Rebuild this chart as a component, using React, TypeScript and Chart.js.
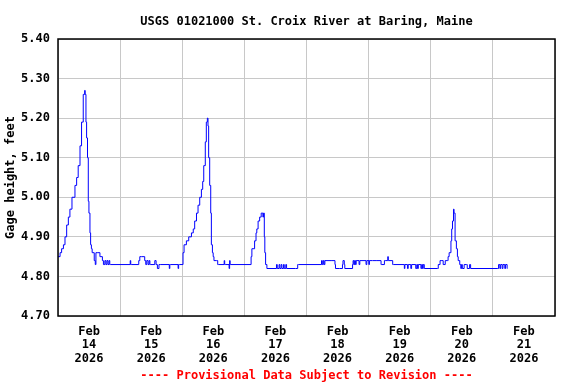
import { useEffect, useRef } from 'react';
import { Chart, registerables } from 'chart.js';

Chart.register(...registerables);

const chartTitle = 'USGS 01021000 St. Croix River at Baring, Maine';
const yAxisTitle = 'Gage height, feet';
const footerText = '---- Provisional Data Subject to Revision ----';
const monthLabel = 'Feb';
const yearLabel = '2026';
const dayLabels = ['14', '15', '16', '17', '18', '19', '20', '21'];
const yTickValues = [4.7, 4.8, 4.9, 5.0, 5.1, 5.2, 5.3, 5.4];

// hours since Feb 14 2026 00:00 (each reading holds until the next one)
const obsHours = [
  0, 0.8, 1.4, 2.1, 2.7, 3.35, 4.0, 4.6, 5.4, 6.55, 7.2, 7.8, 8.5, 9.1, 9.75, 10.3, 10.5, 10.8,
  11.05, 11.4, 11.7, 11.95, 12.35, 12.6, 12.9, 13.2, 14.0, 14.4, 14.65, 15.15, 16.2, 16.6, 17.15,
  17.55, 18.1, 18.5, 18.9, 19.3, 19.7, 20.0, 20.3, 27.9, 28.1, 28.5, 31.2, 31.6, 32.2, 33.5, 33.9,
  34.3, 34.8, 35.2, 35.5, 35.8, 37.4, 37.9, 38.4, 39.0, 39.5, 43.0, 43.2, 43.5, 46.4, 46.6, 46.9,
  48.3, 48.7, 49.6, 50.5, 51.55, 52.25, 52.8, 53.5, 54.1, 54.75, 55.4, 55.9, 56.3, 56.9, 57.3,
  57.7, 57.95, 58.2, 58.6, 59.0, 59.25, 59.65, 59.95, 60.25, 61.2, 61.7, 62.05, 64.2, 64.4, 64.6,
  66.1, 66.3, 66.5, 66.7, 74.6, 74.9, 75.95, 76.5, 76.8, 77.3, 77.9, 78.5, 79.15, 79.4, 79.7, 79.9,
  80.2, 80.7, 84.4, 84.7, 85.4, 85.7, 86.2, 86.5, 87.1, 87.4, 88.0, 88.3, 91.8, 92.6, 92.9, 101.8,
  102.1, 102.5, 102.8, 103.1, 105.5, 107.0, 107.2, 108.7, 109.9, 110.1, 110.6, 110.8, 113.8, 114.0,
  114.3, 114.6, 114.9, 115.2, 116.3, 116.6, 119.0, 119.3, 120.1, 120.3, 121.5, 122.9, 124.8, 125.0,
  126.1, 126.4, 127.4, 127.6, 127.8, 129.3, 129.6, 133.8, 134.0, 135.0, 135.3, 136.3, 136.6, 138.2,
  138.6, 138.9, 139.2, 140.2, 140.5, 140.8, 141.1, 141.5, 146.6, 146.9, 147.6, 148.3, 148.8, 149.6,
  150.4, 150.7, 151.1, 151.8, 152.1, 152.4, 152.8, 153.0, 153.3, 153.4, 153.9, 154.3, 154.6, 155.2,
  155.6, 155.9, 156.2, 156.9, 157.8, 158.1, 159.0, 159.4, 169.9, 170.2, 170.7, 171.0, 171.6, 171.9,
  172.6, 172.9, 173.5, 173.6,
];

const gageFeet = [
  4.85, 4.85, 4.86, 4.87, 4.88, 4.90, 4.93, 4.95, 4.97, 5.00, 5.03, 5.05, 5.08, 5.13, 5.19, 5.26, 5.27, 5.26,
  5.19, 5.15, 5.10, 4.99, 4.96, 4.91, 4.88, 4.87, 4.86, 4.84, 4.83, 4.86, 4.86, 4.85, 4.85,
  4.84, 4.83, 4.84, 4.83, 4.84, 4.83, 4.84, 4.83, 4.83, 4.84, 4.83, 4.83, 4.84, 4.85, 4.85, 4.84,
  4.83, 4.84, 4.83, 4.84, 4.83, 4.83, 4.84, 4.83, 4.82, 4.83, 4.83, 4.82, 4.83, 4.83, 4.82, 4.83,
  4.83, 4.86, 4.88, 4.89, 4.90, 4.91, 4.92, 4.94, 4.96, 4.98, 5.00, 5.02, 5.04, 5.08, 5.14,
  5.19, 5.20, 5.18, 5.10, 5.03, 4.96, 4.88, 4.86, 4.85, 4.84, 4.84, 4.83, 4.83, 4.84, 4.83,
  4.83, 4.82, 4.84, 4.83, 4.83, 4.85, 4.87, 4.89, 4.91, 4.92, 4.94, 4.95, 4.96, 4.95, 4.96, 4.90,
  4.86, 4.83, 4.82, 4.83, 4.82, 4.83, 4.82, 4.83, 4.82, 4.83, 4.82, 4.83, 4.82, 4.82, 4.83, 4.83,
  4.84, 4.83, 4.84, 4.83, 4.84, 4.84, 4.83, 4.82, 4.82, 4.83, 4.84, 4.83, 4.82, 4.83,
  4.84, 4.83, 4.84, 4.83, 4.84, 4.83, 4.84, 4.83, 4.84, 4.83, 4.84, 4.84, 4.84, 4.83,
  4.83, 4.84, 4.84, 4.85, 4.84, 4.84, 4.83, 4.83, 4.82, 4.83, 4.82, 4.83, 4.82, 4.83, 4.82,
  4.83, 4.82, 4.83, 4.82, 4.83, 4.82, 4.83, 4.82, 4.82, 4.83, 4.84, 4.84, 4.83, 4.84,
  4.84, 4.85, 4.86, 4.89, 4.92, 4.94, 4.97, 4.96, 4.96, 4.89, 4.87, 4.85, 4.84, 4.83,
  4.82, 4.83, 4.82, 4.83, 4.83, 4.82, 4.83, 4.82, 4.82, 4.83, 4.82, 4.83, 4.82, 4.83,
  4.82, 4.83, 4.82, 4.83, 4.83,
];

const FONT = "'DejaVu Sans Mono', 'Liberation Mono', monospace";

const frameBorder = {
  id: 'frameBorder',
  afterDraw(chart: any) {
    const { ctx, chartArea } = chart;
    ctx.save();
    ctx.strokeStyle = '#000000';
    ctx.lineWidth = 1.5;
    ctx.strokeRect(chartArea.left, chartArea.top, chartArea.right - chartArea.left, chartArea.bottom - chartArea.top);
    ctx.restore();
  },
};

export default function App() {
  const canvasRef = useRef<HTMLCanvasElement | null>(null);

  useEffect(() => {
    document.body.style.margin = '0';
    const canvas = canvasRef.current;
    if (!canvas) return;
    const points = obsHours.map((h, i) => ({ x: h, y: gageFeet[i] }));
    const xTickValues: number[] = [];
    for (let i = 0; i <= dayLabels.length * 2; i++) xTickValues.push(i * 12);

    const chart = new Chart(canvas, {
      type: 'line',
      data: {
        datasets: [
          {
            data: points,
            borderColor: '#0000ff',
            borderWidth: 1,
            pointRadius: 0,
            stepped: 'after',
            fill: false,
          },
        ],
      },
      plugins: [frameBorder],
      options: {
        animation: false,
        responsive: false,
        devicePixelRatio: 1,
        layout: { padding: { left: 0, right: 21, top: 0, bottom: 0 } },
        plugins: {
          legend: { display: false },
          tooltip: { enabled: false },
          title: {
            display: true,
            text: chartTitle,
            fullSize: false,
            color: '#000000',
            font: { family: FONT, size: 12, weight: 'bold', lineHeight: 1.2 },
            padding: { top: 14.2, bottom: 10.4 },
          },
          subtitle: {
            display: true,
            text: footerText,
            position: 'bottom',
            fullSize: false,
            color: '#ff0000',
            font: { family: FONT, size: 12, weight: 'bold', lineHeight: 1.2 },
            padding: { top: 0, bottom: 1 },
          },
        },
        scales: {
          x: {
            type: 'linear',
            min: 0,
            max: dayLabels.length * 24,
            afterBuildTicks: (scale: any) => {
              scale.ticks = xTickValues.map((v) => ({ value: v }));
            },
            afterFit: (scale: any) => {
              scale.height = 52.6;
            },
            border: { display: false },
            grid: {
              drawTicks: false,
              lineWidth: 1,
              color: (ctx: any) =>
                ctx.tick && ctx.tick.value % 24 === 0 ? '#c8c8c8' : 'rgba(0,0,0,0)',
            },
            ticks: {
              autoSkip: false,
              maxRotation: 0,
              minRotation: 0,
              padding: 9,
              color: '#000000',
              font: { family: FONT, size: 12, weight: 'bold', lineHeight: 1.12 },
              callback: (value: any) => {
                const v = Number(value);
                if (v % 24 !== 12) return '';
                return [monthLabel, dayLabels[(v - 12) / 24], yearLabel];
              },
            },
          },
          y: {
            type: 'linear',
            min: yTickValues[0],
            max: yTickValues[yTickValues.length - 1],
            afterBuildTicks: (scale: any) => {
              scale.ticks = yTickValues.map((v) => ({ value: v }));
            },
            afterFit: (scale: any) => {
              scale.width = 58;
            },
            border: { display: false },
            grid: { drawTicks: false, color: '#c8c8c8', lineWidth: 1 },
            ticks: {
              padding: 8,
              color: '#000000',
              font: { family: FONT, size: 12, weight: 'bold' },
              callback: (value: any) => Number(value).toFixed(2),
            },
            title: {
              display: true,
              text: yAxisTitle,
              color: '#000000',
              font: { family: FONT, size: 12, weight: 'bold', lineHeight: 1.2 },
              padding: { top: 4, bottom: 0 },
            },
          },
        },
      },
    });
    return () => chart.destroy();
  }, []);

  return (
    <div style={{ width: 576, height: 384, background: '#ffffff' }}>
      <canvas ref={canvasRef} width={576} height={384} style={{ width: 576, height: 384, display: 'block' }} />
    </div>
  );
}
